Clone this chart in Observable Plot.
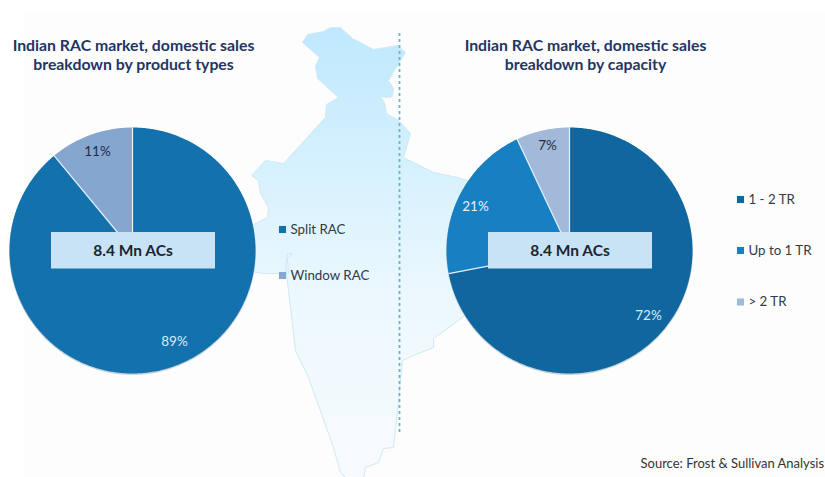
<!DOCTYPE html>
<html>
<head>
<meta charset="utf-8">
<script src="https://cdn.jsdelivr.net/npm/d3@7"></script>
<script src="https://cdn.jsdelivr.net/npm/@observablehq/plot@0.6"></script>
<style>
html,body{margin:0;padding:0;background:#fff;overflow:hidden}
svg{display:block}
</style>
</head>
<body>
<div id="chart"></div>
<script>
const productTypes = ["Split RAC", "Window RAC"];
const productShares = [89, 11];
const productColors = ["#1372ae", "#85a6cf"];
const capacities = ["1 - 2 TR", "Up to 1 TR", "> 2 TR"];
const capacityShares = [72, 21, 7];
const capacityColors = ["#10679f", "#1780c2", "#a3b9d9"];
const titleLeft = "Indian RAC market, domestic sales\nbreakdown by product types";
const titleRight = "Indian RAC market, domestic sales\nbreakdown by capacity";
const totalLabel = "8.4 Mn ACs";
const sourceLabel = "Source: Frost & Sullivan Analysis";
// India silhouette
const mapX = [302,307,323,330,340,352,373,397,405,400,388,393,392,387,380,384,386,398,410,403,433,457,470,470,462,433,433,413,402,397,393,383,378,365,363,345,340,333,308,295,288,285,287,292,287,288,263,245,245,267,268,260,258,251,265,283,325,326,338,317,315,319,302];
const mapY = [42,34,31,27,27,38,49,45,52,60,80,88,96,97,96,102,113,120,133,157,172,177,181,310,317,338,347,355,360,410,447,448,462,467,477,477,472,447,377,350,290,265,253,253,258,273,273,270,228,217,207,193,180,175,160,163,117,104,97,78,65,57,42];

const mapPoints = mapX.map((x, i) => ({x, y: mapY[i]}));
const pieRadius = 123;
function slices(names, shares, cx, cy) {
  const arcs = d3.pie().sort(null)(shares);
  return arcs.flatMap((a, i) => {
    const n = Math.ceil((a.endAngle - a.startAngle) / 0.01);
    const pts = [{key: names[i], x: cx, y: cy}];
    for (let k = 0; k <= n; k++) {
      const t = a.startAngle + (a.endAngle - a.startAngle) * k / n;
      pts.push({key: names[i], x: cx + pieRadius * Math.sin(t), y: cy - pieRadius * Math.cos(t)});
    }
    pts.push({key: names[i], x: cx, y: cy});
    return pts;
  });
}
function seams(shares, cx, cy) {
  return d3.pie().sort(null)(shares).map(a => ({
    x1: cx, y1: cy,
    x2: cx + pieRadius * Math.sin(a.startAngle),
    y2: cy - pieRadius * Math.cos(a.startAngle)
  }));
}
const leftPie = slices(productTypes, productShares, 132, 250);
const rightPie = slices(capacities, capacityShares, 569, 250);
const pieSeams = [...seams(productShares, 132, 250), ...seams(capacityShares, 569, 250)];

const font = "Lato, Carlito, sans-serif";
const gradient = () => {
  const defs = d3.create("svg:defs");
  const g = defs.append("linearGradient").attr("id", "mapFill")
    .attr("x1", 0).attr("x2", 0).attr("y1", 0).attr("y2", 1);
  [[0, "#bfe8fe"], [0.35, "#d9f2fe"], [0.6, "#ecf8fe"], [1, "#f8fbfd"]].forEach(([o, c]) =>
    g.append("stop").attr("offset", o).attr("stop-color", c));
  return defs.node();
};
const legendMarks = (names, xs, ys) => [
  Plot.dot(names, {x: () => xs, y: (d, i) => ys[i], fill: d => d, symbol: "square", r: 4}),
  Plot.text(names, {x: () => xs + 8, y: (d, i) => ys[i], text: d => d, textAnchor: "start",
    fontFamily: font, fontSize: 13.3, fill: "#333a45", letterSpacing: 0.3})
];
const sliceLabel = (text, x, y, fill) =>
  Plot.text([text], {x: () => x, y: () => y, text: d => d, fill, fontFamily: font, fontSize: 13.5, letterSpacing: 0.2});

const chart = Plot.plot({
  width: 825, height: 477,
  margin: 0,
  style: {background: "#ffffff", fontFamily: font},
  x: {domain: [0, 825], range: [0, 825], axis: null},
  y: {domain: [0, 477], range: [0, 477], axis: null},
  color: {type: "ordinal", domain: [...productTypes, ...capacities], range: [...productColors, ...capacityColors]},
  marks: [
    gradient,
    Plot.rect([0], {x1: () => 24, x2: () => 825, y1: () => 10, y2: () => 477, fill: "#fdfdfd"}),
    Plot.line(mapPoints, {x: "x", y: "y", fill: "url(#mapFill)", stroke: "#cfe9f5", strokeWidth: 1, curve: "linear"}),
    Plot.ruleX([399], {y1: 33, y2: 434, stroke: "#6db3cb", strokeWidth: 1.8, strokeDasharray: "3,3"}),
    Plot.dot([[132, 250], [569, 250]], {x: d => d[0], y: d => d[1], r: pieRadius + 0.5, dy: 1, fill: "#c6d2da"}),
    Plot.line(leftPie, {x: "x", y: "y", z: "key", fill: "key", stroke: "none", curve: "linear"}),
    Plot.line(rightPie, {x: "x", y: "y", z: "key", fill: "key", stroke: "none", curve: "linear"}),
    Plot.link(pieSeams, {x1: "x1", y1: "y1", x2: "x2", y2: "y2", stroke: "#e6f1f8", strokeWidth: 1.2}),
    Plot.rect([[51, 215], [488, 652]], {x1: d => d[0], x2: d => d[1], y1: () => 232, y2: () => 268.5, fill: "#c8e3f6"}),
    Plot.text([132.5, 569.5], {x: d => d, y: () => 251, text: () => totalLabel, fontFamily: font, fontSize: 15.5, fontWeight: 700, fill: "#1c2530"}),
    sliceLabel(productShares[1] + "%", 97, 151, "#1f2c40"),
    sliceLabel(productShares[0] + "%", 174, 341, "#dcebf6"),
    sliceLabel(capacityShares[2] + "%", 547, 145, "#1f2c40"),
    sliceLabel(capacityShares[1] + "%", 475, 206, "#e6f2fa"),
    sliceLabel(capacityShares[0] + "%", 648, 315, "#dcebf6"),
    ...legendMarks(productTypes, 282, [229, 275]),
    ...legendMarks(capacities, 740, [199, 250, 301.5]),
    Plot.text([titleLeft], {x: () => 133, y: () => 53.5, text: d => d, fontFamily: font, fontSize: 15.8, fontWeight: 700, fill: "#1f3564", lineHeight: 1.2}),
    Plot.text([titleRight], {x: () => 585, y: () => 53.5, text: d => d, fontFamily: font, fontSize: 15.8, fontWeight: 700, fill: "#1f3564", lineHeight: 1.2}),
    Plot.text([sourceLabel], {x: () => 640, y: () => 463, text: d => d, textAnchor: "start", fontFamily: font, fontSize: 13, fill: "#333"})
  ]
});
document.getElementById("chart").append(chart);
</script>
</body>
</html>
